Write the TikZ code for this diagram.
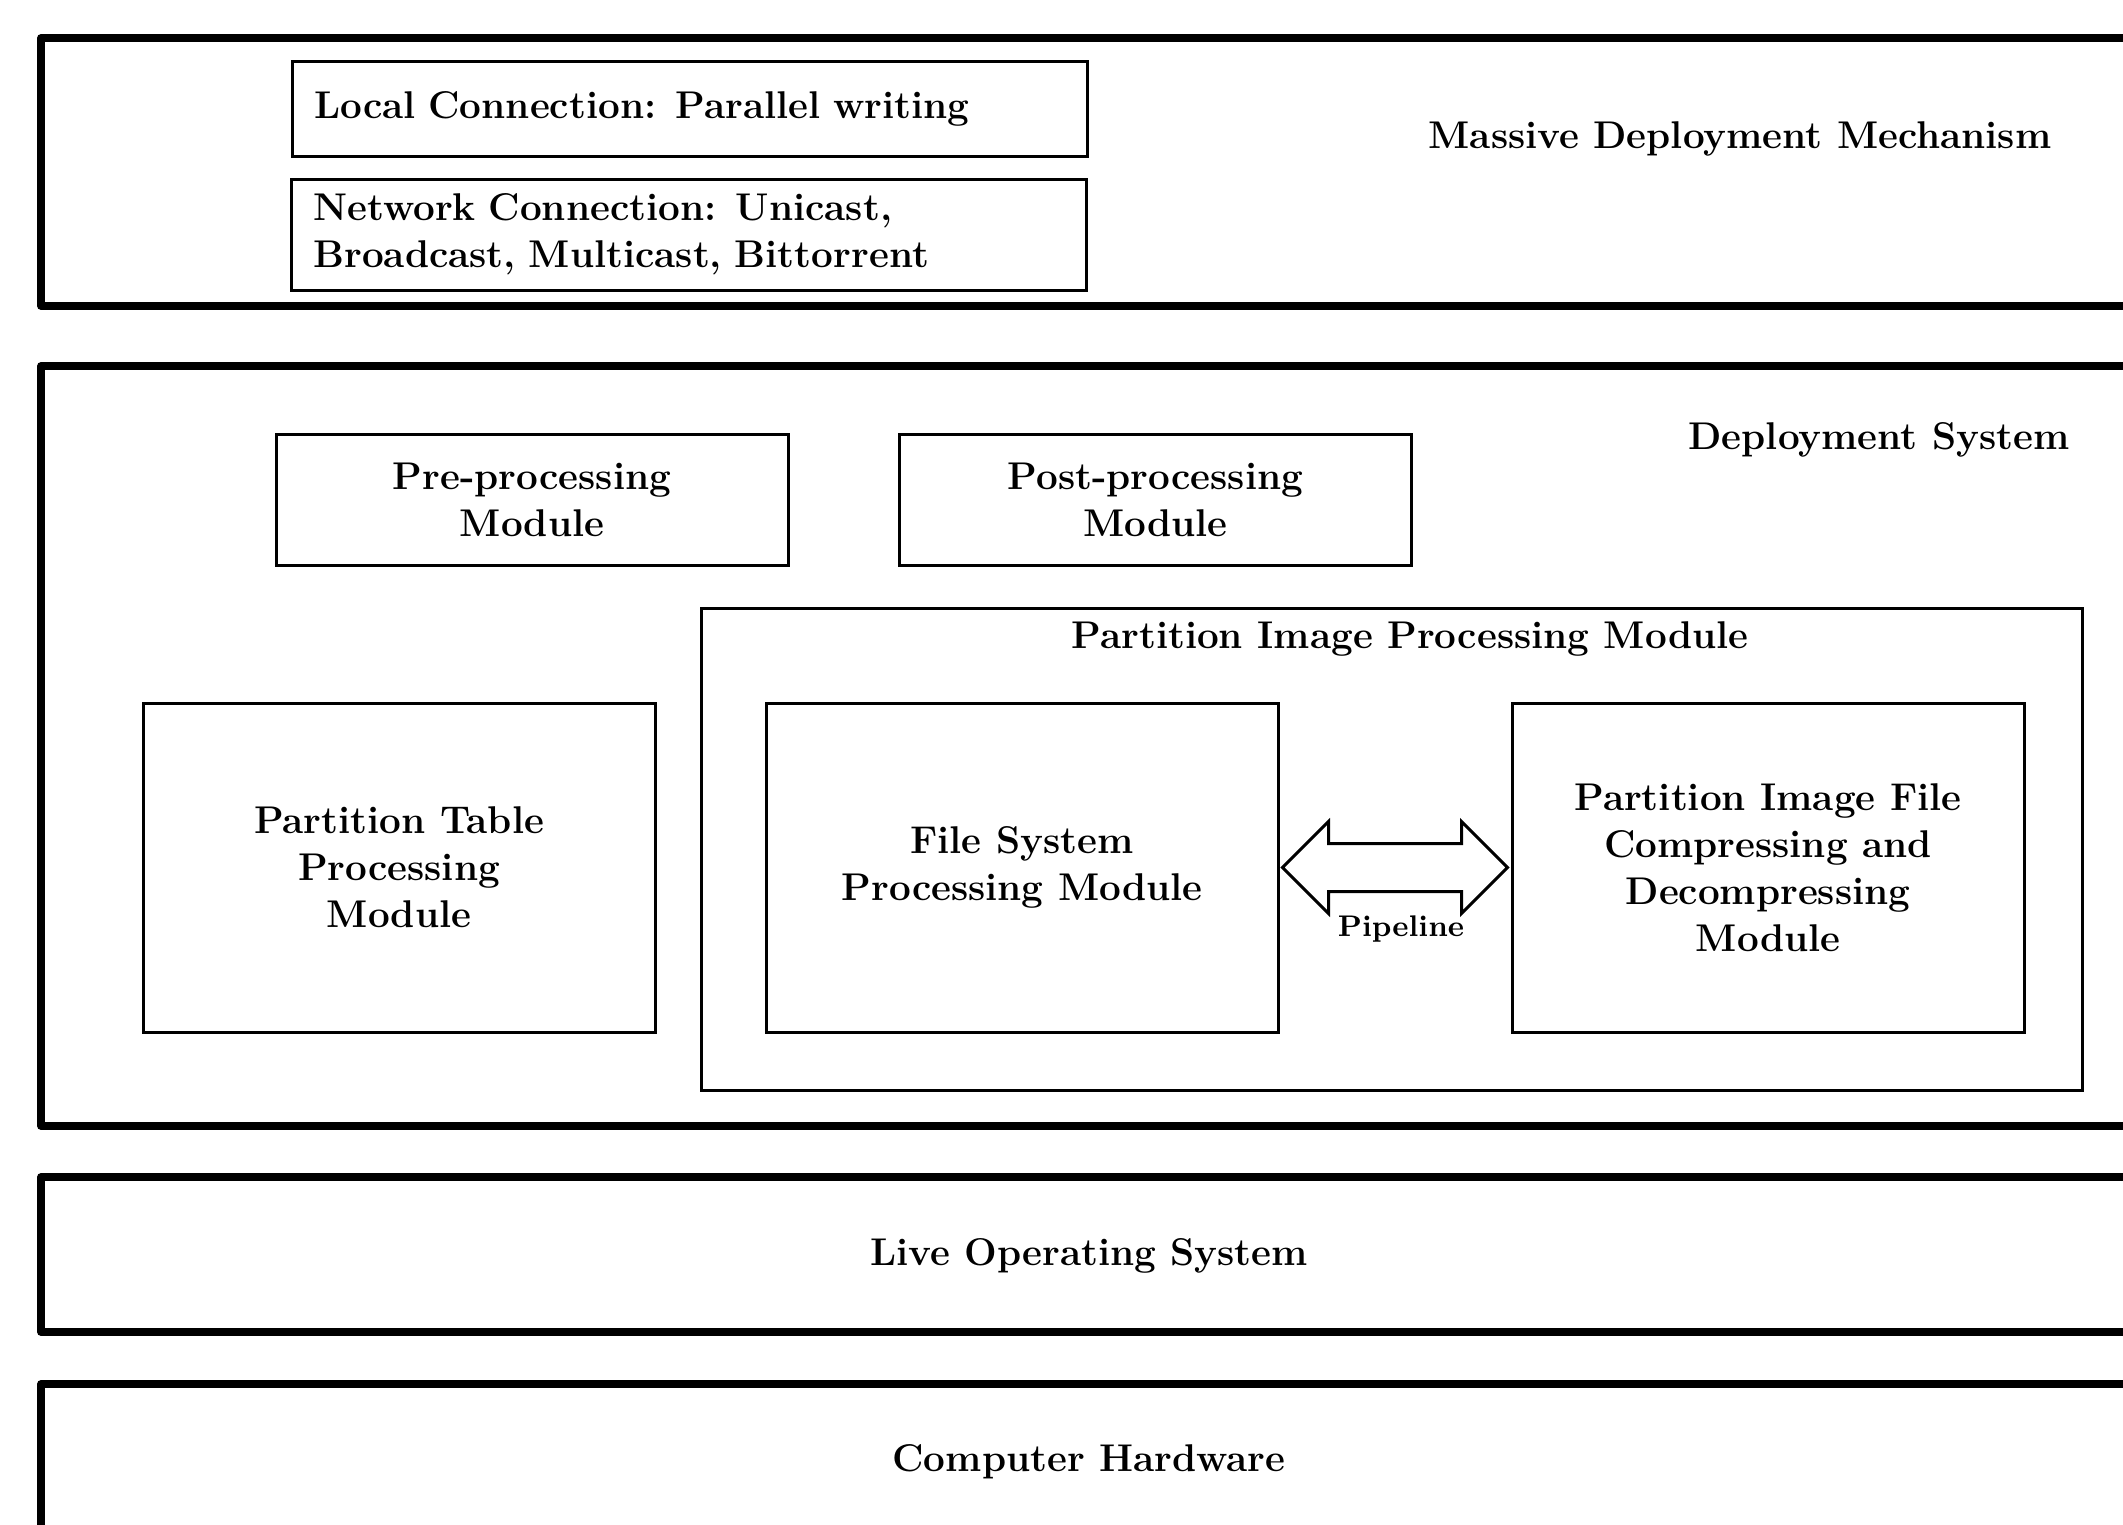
\documentclass[tikz,border=0pt]{standalone}
\usetikzlibrary{shapes.arrows, calc}

\begin{document}
\begin{tikzpicture}[x=1mm, y=-1mm,
    font=\fontsize{11}{13.4}\selectfont\bfseries,
    layer/.style={draw, rectangle, line width=0.75mm, line join=round, outer sep=0pt, anchor=north west, minimum width=226mm},
    modbox/.style={draw, rectangle, line width=0.3mm, align=center, minimum width=51.2mm},
    linkbox/.style={draw, rectangle, line width=0.3mm, align=left, inner xsep=2.2mm, text width=75.1mm},
    pipearrow/.style={draw, double arrow, line width=0.3mm, inner sep=0pt, inner ysep=2.25mm, minimum width=8.8mm, double arrow head extend=2.2mm}]
        \useasboundingbox (0,0) rectangle (212.3,152.4);
        % layers
        \node[layer, minimum height=26.8mm] (mdm)  at (4.1,3.8)   {};
        \node[layer, minimum height=76.0mm] (dsys) at (4.1,36.6)  {};
        \node[layer, minimum height=15.5mm] (los)  at (4.1,117.7) {};
        \node[layer, minimum height=30.0mm] (hw)   at (4.1,138.4) {};
        \node (mdmlabel)  at (174.0,13.9)  {Massive Deployment Mechanism};
        \node (dsyslabel) at (187.9,44.0)  {Deployment System};
        \node (loslabel)  at (108.9,125.6) {Live Operating System};
        \node (hwlabel)   at (108.9,146.2) {Computer Hardware};
        % massive deployment
        \node[linkbox, minimum height=9.5mm]  (localconn) at (68.95,10.85) {Local Connection: Parallel writing};
        \node[linkbox, minimum height=11.1mm] (netconn)   at (68.9,23.45)  {Network Connection: Unicast,\\Broadcast, Multicast, Bittorrent};
        % deployment system
        \node[modbox, minimum height=13.1mm] (preproc)  at (53.2,49.95)   {Pre-processing\\Module};
        \node[modbox, minimum height=13.1mm] (postproc) at (115.55,49.95) {Post-processing\\Module};
        \node[draw, rectangle, line width=0.3mm, minimum width=138.1mm, minimum height=48.2mm] (pipm) at (139.15,84.9) {};
        \node (pipmlabel) at (141.0,63.9) {Partition Image Processing Module};
        \node[modbox, minimum height=32.9mm] (ptable) at (39.9,86.75)  {Partition Table\\Processing\\Module};
        \node[modbox, minimum height=32.9mm] (fsys)   at (102.2,86.75) {File System\\Processing Module};
        \node[modbox, minimum height=32.9mm] (pifile) at (176.8,86.75) {Partition Image File\\Compressing and\\Decompressing\\Module};
        \node[pipearrow, minimum height=22.5mm] (pipe) at ($(fsys.east)!0.5!(pifile.west)$) {};
        \node[font=\fontsize{8.5}{10}\selectfont\bfseries] (pipelabel) at (140.1,92.9) {Pipeline};
      \end{tikzpicture}
\end{document}
